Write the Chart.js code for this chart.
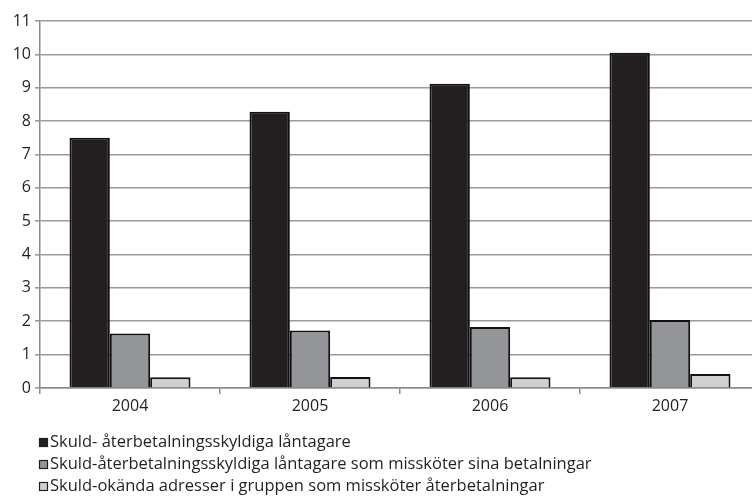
<!DOCTYPE html>
<html>
<head>
<meta charset="utf-8">
<script src="https://cdn.jsdelivr.net/npm/chart.js@4"></script>
<style>
  html, body { margin: 0; padding: 0; background: #fff; overflow: hidden; }
  #wrap { width: 760px; height: 497px; position: relative; }
</style>
</head>
<body>
<div id="wrap"><canvas id="chart"></canvas></div>
<script>
const years = ['2004', '2005', '2006', '2007'];
const seriesNames = [
  'Skuld- återbetalningsskyldiga låntagare',
  'Skuld-återbetalningsskyldiga låntagare som missköter sina betalningar',
  'Skuld-okända adresser i gruppen som missköter återbetalningar'
];
const allBorrowers = [7.5, 8.28, 9.12, 10.05];
const lateBorrowers = [1.63, 1.72, 1.83, 2.04];
const unknownAddress = [0.32, 0.33, 0.32, 0.42];
const yTicks = [0, 1, 2, 3, 4, 5, 6, 7, 8, 9, 10, 11];

const colors = ['#231f20', '#939598', '#cfd0d1'];
const textColor = '#231f20';
const fontFamily = '"Open Sans", "DejaVu Sans", sans-serif';

// legend drawn under the axis, one item per line
const legendPlugin = {
  id: 'stackedLegend',
  afterDraw(chart) {
    const ctx = chart.ctx;
    ctx.save();
    ctx.font = '16.5px ' + fontFamily;
    ctx.textBaseline = 'middle';
    chart.data.datasets.forEach((ds, i) => {
      const y = 442 + i * 22;
      ctx.fillStyle = ds.backgroundColor;
      ctx.fillRect(39, y - 4, 9, 9);
      ctx.strokeStyle = '#231f20';
      ctx.lineWidth = 1.2;
      ctx.strokeRect(39.5, y - 3.5, 8, 8);
      ctx.fillStyle = textColor;
      ctx.fillText(ds.label, 50, y);
    });
    ctx.restore();
  }
};

new Chart(document.getElementById('chart'), {
  type: 'bar',
  data: {
    labels: years,
    datasets: [
      { label: seriesNames[0], data: allBorrowers, backgroundColor: colors[0] },
      { label: seriesNames[1], data: lateBorrowers, backgroundColor: colors[1] },
      { label: seriesNames[2], data: unknownAddress, backgroundColor: colors[2] }
    ]
  },
  options: {
    responsive: true,
    maintainAspectRatio: false,
    animation: false,
    layout: { padding: { top: 21, right: 0, bottom: 79, left: 0 } },
    datasets: {
      bar: {
        borderColor: '#111',
        borderWidth: 2,
        categoryPercentage: 0.672,
        barPercentage: 1
      }
    },
    plugins: {
      legend: { display: false },
      tooltip: { enabled: false }
    },
    scales: {
      x: {
        offset: true,
        grid: {
          offset: true,
          drawOnChartArea: false,
          drawTicks: true,
          tickLength: 6,
          color: '#8a8a8a',
          lineWidth: 1.5
        },
        border: { color: '#8a8a8a', width: 1.5 },
        ticks: {
          color: textColor,
          font: { family: fontFamily, size: 16 },
          padding: 3
        },
        afterFit(scale) { scale.height = 30; }
      },
      y: {
        min: 0,
        max: 11,
        afterBuildTicks(scale) { scale.ticks = yTicks.map(v => ({ value: v })); },
        grid: {
          color: '#9a9a9a',
          lineWidth: 1.6,
          drawTicks: true,
          tickLength: 5
        },
        border: { color: '#8a8a8a', width: 1.5 },
        ticks: {
          color: textColor,
          font: { family: fontFamily, size: 16 },
          padding: 4
        },
        afterFit(scale) { scale.width = 40; }
      }
    }
  },
  plugins: [legendPlugin]
});
</script>
</body>
</html>
